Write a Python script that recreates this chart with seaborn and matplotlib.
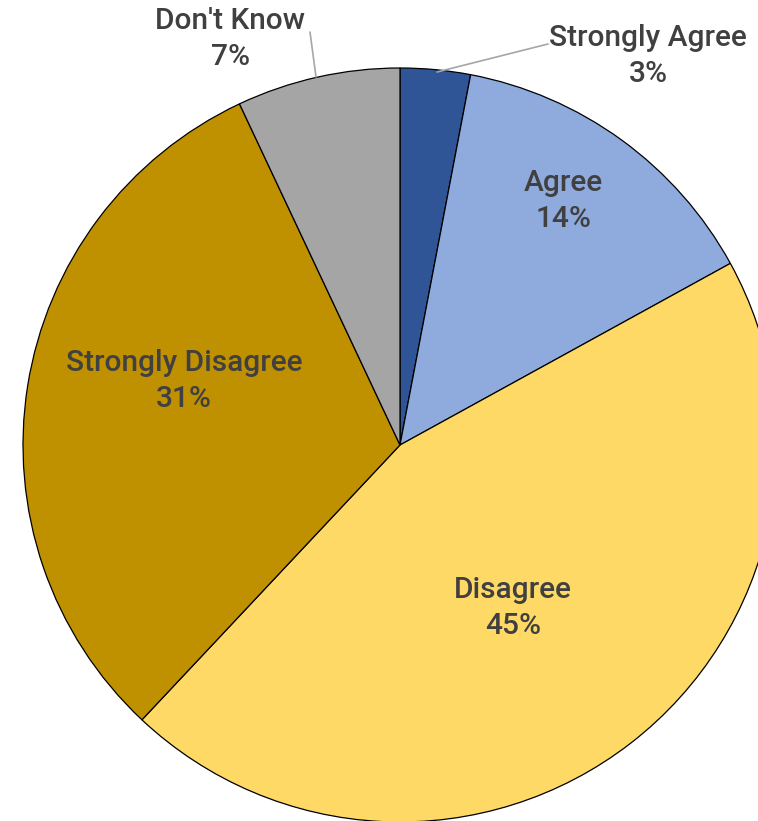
import matplotlib
matplotlib.use("Agg")
import matplotlib.pyplot as plt
import numpy as np
import seaborn as sns

# survey answers, clockwise from 12 o'clock
categories = ["Strongly Agree", "Agree", "Disagree", "Strongly Disagree", "Don't Know"]
shares = [3, 14, 45, 31, 7]
colors = ["#2F5597", "#8FAADC", "#FFD966", "#BF9000", "#A5A5A5"]

sns.set_theme(style="white")
plt.rcParams["font.family"] = ["Roboto", "DejaVu Sans"]

fig = plt.figure(figsize=(7.58, 8.21), dpi=100)
ax = fig.add_axes([0, 0, 1, 1])

wedges, _ = ax.pie(
    shares,
    colors=colors,
    startangle=90,
    counterclock=False,
    radius=1.0,
    wedgeprops=dict(edgecolor="black", linewidth=0.9),
)

# label placement: (x, y) in pie units, plus optional leader line start/end
R = 377.0
cx, cy = 400.0, 445.0


def px(x, y):
    return ((x - cx) / R, (cy - y) / R)


label_px = {
    "Strongly Agree": (648, 56),
    "Agree": (563, 201),
    "Disagree": (513, 608),
    "Strongly Disagree": (184, 381),
    "Don't Know": (230, 39),
}
leaders = {
    "Strongly Agree": [(437, 72), (548, 44)],
    "Don't Know": [(316, 77), (310, 32)],
}

for name, pct in zip(categories, shares):
    x, y = px(*label_px[name])
    ax.text(
        x, y, f"{name}\n{pct}%",
        ha="center", va="center",
        fontsize=21.5, color="#404040", fontweight="medium",
        linespacing=1.32,
    )
    if name in leaders:
        (x0, y0), (x1, y1) = [px(*p) for p in leaders[name]]
        ax.plot([x0, x1], [y0, y1], color="#A6A6A6", linewidth=1.2)

ax.set_xlim(-cx / R, (758 - cx) / R)
ax.set_ylim(-(821 - cy) / R, cy / R)
ax.set_aspect("equal")
ax.axis("off")

fig.savefig("out.png", dpi=100, facecolor="white")
